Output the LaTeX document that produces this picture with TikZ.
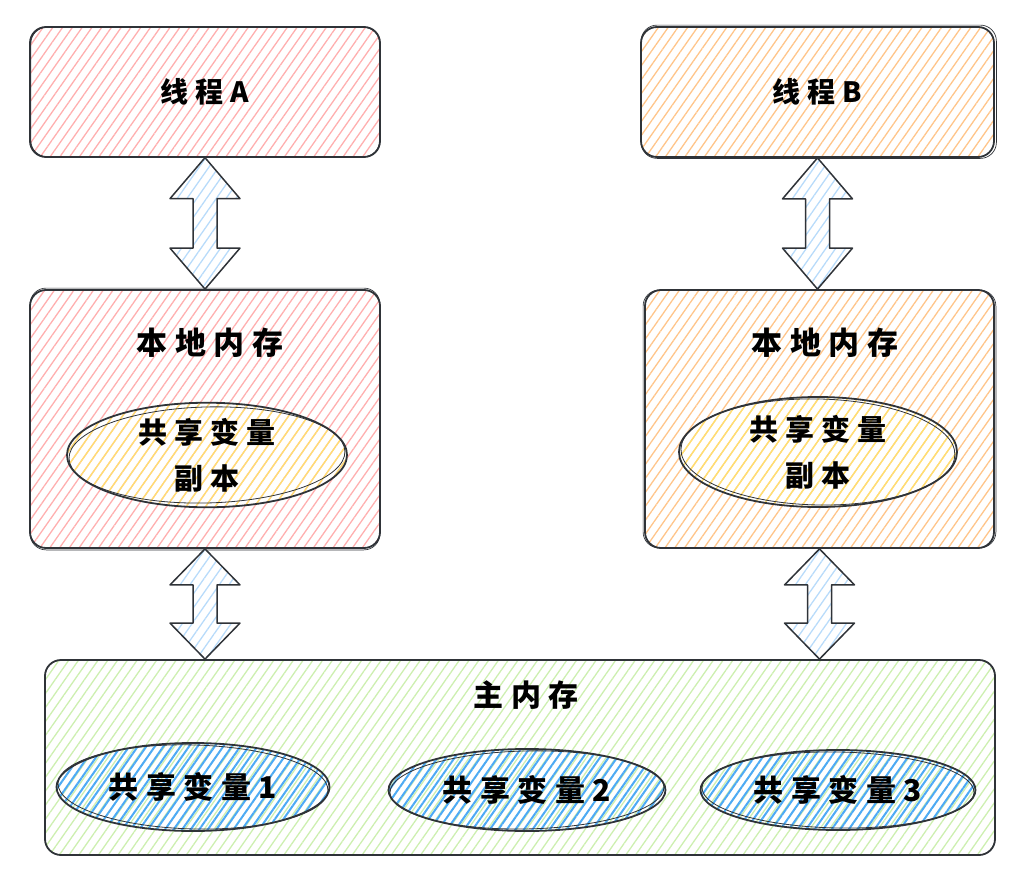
\documentclass[tikz,border=0pt]{standalone}
\usepackage{fontspec}
\usetikzlibrary{patterns.meta,calc,shapes.geometric}
\newfontfamily\cjk[LetterSpace=25]{Noto Sans CJK SC}

\definecolor{ink}{HTML}{2F3338}
\definecolor{pinkline}{HTML}{FFAFAF}
\definecolor{orangeline}{HTML}{FFC58A}
\definecolor{yellowline}{HTML}{FFE070}
\definecolor{greenline}{HTML}{CDEFB0}
\definecolor{blueline}{HTML}{4DAAF5}
\definecolor{arrowline}{HTML}{B8DBFA}

\tikzset{
  hatch/.style={pattern={Lines[angle=55,distance=8pt,line width=1.3pt]},pattern color=#1},
  densehatch/.style={pattern={Lines[angle=55,distance=7pt,line width=2pt]},pattern color=#1},
  box/.style={draw=ink,line width=1.8pt,rounded corners=16pt,inner sep=0pt,
    font=\cjk\bfseries\fontsize{28}{30}\selectfont},
  boxedge/.style={draw=ink,line width=0.7pt,rounded corners=16pt},
  oval/.style={ellipse,draw=ink,line width=1.8pt,inner sep=0pt,align=center},
  ovaledge/.style={draw=ink,line width=0.8pt},
  title/.style={font=\cjk\bfseries\fontsize{30}{32}\selectfont,inner sep=0pt},
  fatarrow/.style={draw=ink,line width=1.5pt,line join=round,hatch=arrowline},
}

% fat two-headed arrow from #1 (top) to #2 (bottom), head length #3
\newcommand\fatarrow[3]{%
  \path[fatarrow] let \p1=#1, \p2=#2 in
    (\x1,\y1) -- (\x1+35pt,\y1-#3) -- (\x1+12pt,\y1-#3) -- (\x1+12pt,\y2+#3)
    -- (\x1+35pt,\y2+#3) -- (\x1,\y2) -- (\x1-35pt,\y2+#3) -- (\x1-12pt,\y2+#3)
    -- (\x1-12pt,\y1-#3) -- (\x1-35pt,\y1-#3) -- cycle;}

\begin{document}
\begin{tikzpicture}[x=1pt,y=-1pt]
\useasboundingbox (0,0) rectangle (1013,870);

% threads
\node[box,hatch=pinkline,minimum width=350,minimum height=130] (ta) at (205,92) {线程A};
\node[box,hatch=orangeline,minimum width=353,minimum height=130] (tb) at (817.5,92) {线程B};
\draw[boxedge] ($(ta.north west)+(1.5,1)$) rectangle ($(ta.south east)+(-1,-1)$);
\draw[boxedge] ($(tb.north west)+(1,-1)$) rectangle ($(tb.south east)+(1.5,0.5)$);

% local memories
\node[box,hatch=pinkline,minimum width=350,minimum height=258] (la) at (205,419) {};
\node[box,hatch=orangeline,minimum width=349,minimum height=258] (lb) at (819.5,419) {};
\draw[boxedge] ($(la.north west)+(1,-1)$) rectangle ($(la.south east)+(-1,1)$);
\draw[boxedge] ($(lb.north west)+(-1,1)$) rectangle ($(lb.south east)+(1,-1)$);
\node[title,font=\cjk\bfseries\fontsize{31}{32}\selectfont] (lat) at (210,343) {本地内存};
\node[title,font=\cjk\bfseries\fontsize{31}{32}\selectfont] (lbt) at (825,343) {本地内存};

% copies of the shared variable
\node[oval,hatch=yellowline,minimum width=280,minimum height=100,
  font=\cjk\bfseries\fontsize{29}{46}\selectfont] (ca) at (207,455) {共享变量\\副本};
\node[oval,hatch=yellowline,minimum width=278,minimum height=110,
  font=\cjk\bfseries\fontsize{29}{46}\selectfont] (cb) at (818,452) {共享变量\\副本};
\draw[ovaledge,rotate around={1.5:(ca.center)}] (ca.center) ellipse [x radius=138,y radius=48];
\draw[ovaledge,rotate around={-1.2:(cb.center)}] (cb.center) ellipse [x radius=137,y radius=53];

% main memory
\node[box,hatch=greenline,minimum width=950,minimum height=195] (mm) at (520,757.5) {};
\draw[boxedge] ($(mm.north west)+(1,1)$) rectangle ($(mm.south east)+(-1,-1)$);
\node[title] (mmt) at (526,695) {主内存};

\node[oval,densehatch=blueline,minimum width=273,minimum height=88,
  font=\cjk\bfseries\fontsize{30}{32}\selectfont] (v1) at (193,787) {共享变量1};
\node[oval,densehatch=blueline,minimum width=277,minimum height=82,
  font=\cjk\bfseries\fontsize{30}{32}\selectfont] (v2) at (527,790) {共享变量2};
\node[oval,densehatch=blueline,minimum width=275,minimum height=80,
  font=\cjk\bfseries\fontsize{30}{32}\selectfont] (v3) at (838,790) {共享变量3};
\draw[ovaledge,rotate around={-1.5:(v1.center)}] (v1.center) ellipse [x radius=135,y radius=42];
\draw[ovaledge,rotate around={1.2:(v2.center)}] (v2.center) ellipse [x radius=137,y radius=39];
\draw[ovaledge,rotate around={-1:(v3.center)}] (v3.center) ellipse [x radius=136,y radius=38];

% links between the levels
\fatarrow{(ta.south)}{(la.north)}{41pt}
\fatarrow{(tb.south)}{(tb.south |- lb.north)}{41pt}
\fatarrow{(la.south)}{(la.south |- mm.north)}{36pt}
\fatarrow{(lb.south)}{(lb.south |- mm.north)}{36pt}
\end{tikzpicture}
\end{document}
